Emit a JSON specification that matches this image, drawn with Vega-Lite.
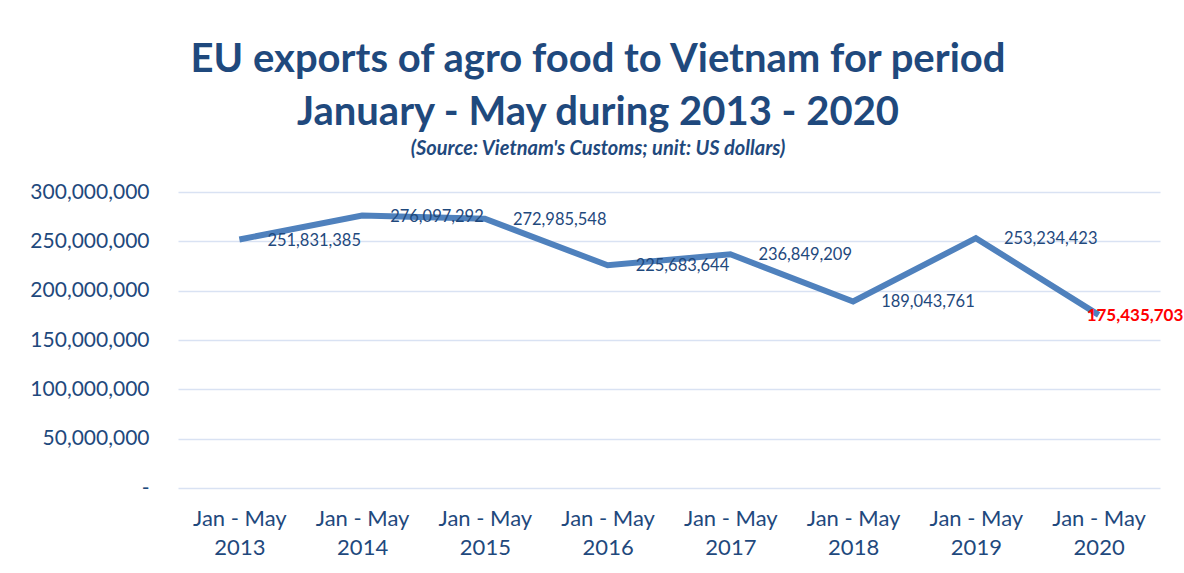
{
  "$schema": "https://vega.github.io/schema/vega-lite/v6.json",
  "width": 982,
  "height": 296,
  "autosize": {"type": "none"},
  "padding": {"left": 178, "top": 192, "right": 24, "bottom": 85},
  "background": "white",
  "title": {
    "text": ["EU exports of agro food to Vietnam for period", "January - May during 2013 - 2020"],
    "subtitle": "(Source: Vietnam's Customs; unit: US dollars)",
    "anchor": "middle",
    "frame": "group",
    "dx": -71,
    "offset": 22,
    "font": "Lato",
    "fontSize": 40,
    "fontWeight": "bold",
    "lineHeight": 53,
    "color": "#1F497D",
    "subtitleFont": "Lato",
    "subtitleFontSize": 20,
    "subtitleFontStyle": "italic",
    "subtitleFontWeight": "bold",
    "subtitleColor": "#1F497D",
    "subtitlePadding": 6
  },
  "data": {
    "values": [
      {"period": "Jan - May 2013", "value": 251831385},
      {"period": "Jan - May 2014", "value": 276097292},
      {"period": "Jan - May 2015", "value": 272985548},
      {"period": "Jan - May 2016", "value": 225683644},
      {"period": "Jan - May 2017", "value": 236849209},
      {"period": "Jan - May 2018", "value": 189043761},
      {"period": "Jan - May 2019", "value": 253234423},
      {"period": "Jan - May 2020", "value": 175435703}
    ]
  },
  "encoding": {
    "x": {
      "field": "period",
      "type": "ordinal",
      "sort": null,
      "scale": {"type": "point", "padding": 0.5},
      "axis": {
        "title": null,
        "labelAngle": 0,
        "labelExpr": "[slice(datum.label, 0, 9), slice(datum.label, 10)]",
        "labelLineHeight": 29,
        "labelPadding": 20,
        "labelFont": "Lato",
        "labelFontSize": 22,
        "labelColor": "#1F497D",
        "ticks": false,
        "domain": false,
        "grid": false
      }
    },
    "y": {
      "field": "value",
      "type": "quantitative",
      "scale": {"domain": [0, 300000000], "nice": false},
      "axis": {
        "title": null,
        "values": [0, 50000000, 100000000, 150000000, 200000000, 250000000, 300000000],
        "labelExpr": "datum.value == 0 ? '-\u00a0\u00a0' : format(datum.value, ',')",
        "labelFont": "Lato",
        "labelFontSize": 21,
        "labelColor": "#1F497D",
        "labelPadding": 29,
        "ticks": false,
        "domain": false,
        "grid": true,
        "gridColor": "#D9E2F3",
        "gridWidth": 1.5
      }
    }
  },
  "layer": [
    {
      "mark": {"type": "line", "color": "#4F81BD", "strokeWidth": 6, "strokeJoin": "miter", "strokeCap": "butt"}
    },
    {
      "transform": [{"filter": "datum.period != 'Jan - May 2020'"}],
      "mark": {"type": "text", "align": "left", "baseline": "middle", "dx": 28, "dy": 1, "font": "Lato", "fontSize": 16.5, "color": "#1F497D"},
      "encoding": {"text": {"field": "value", "type": "quantitative", "format": ","}}
    },
    {
      "transform": [{"filter": "datum.period == 'Jan - May 2020'"}],
      "mark": {"type": "text", "align": "left", "baseline": "middle", "dx": -12, "dy": 1, "font": "Lato", "fontSize": 17, "fontWeight": "bold", "color": "#FF0000"},
      "encoding": {"text": {"field": "value", "type": "quantitative", "format": ","}}
    }
  ],
  "config": {"view": {"stroke": null}}
}
